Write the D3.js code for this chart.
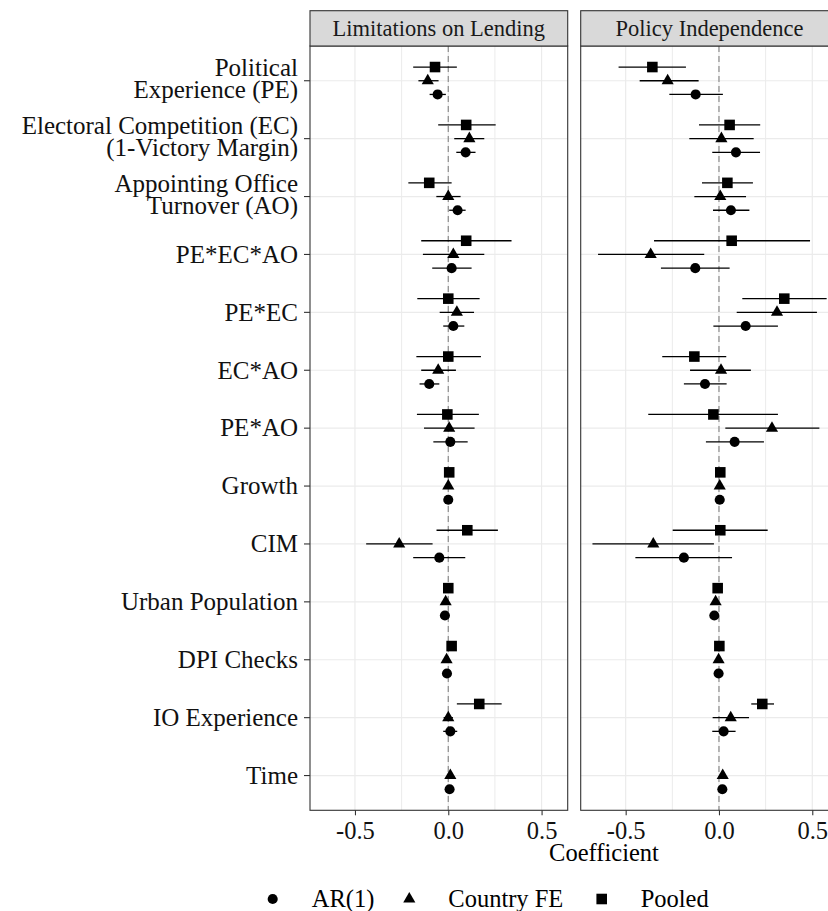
<!DOCTYPE html>
<html>
<head>
<meta charset="utf-8">
<script src="https://cdn.jsdelivr.net/npm/d3@7"></script>
<style>
  body { margin: 0; background: #fff; }
  svg { display: block; }
  svg text { font-family: "Liberation Serif", "Times New Roman", serif; }
</style>
</head>
<body>
<svg id="chart" width="828" height="911"></svg>
<script>
"use strict";

// category order, top to bottom
var terms = ["Political\nExperience (PE)", "Electoral Competition (EC)\n(1-Victory Margin)",
  "Appointing Office\nTurnover (AO)", "PE*EC*AO", "PE*EC", "EC*AO", "PE*AO", "Growth", "CIM",
  "Urban Population", "DPI Checks", "IO Experience", "Time"];

var panels = ["Limitations on Lending", "Policy Independence"];
var models = ["Pooled", "Country FE", "AR(1)"];
var legendOrder = ["AR(1)", "Country FE", "Pooled"];
var xTicks = [-0.5, 0, 0.5];
var xMinor = [-0.25, 0.25];

// [estimate, lower, upper] per term
var lendingPooled = [[-0.071, -0.188, 0.046], [0.096, -0.054, 0.254], [-0.102, -0.214, 0.018],
  [0.096, -0.145, 0.339], [0.0, -0.166, 0.168], [0.0, -0.171, 0.175], [-0.005, -0.168, 0.164],
  [0.005, -0.004, 0.014], [0.102, -0.063, 0.266], [0.0, -0.007, 0.007], [0.018, 0.01, 0.026],
  [0.166, 0.046, 0.286], null];
var lendingFE = [[-0.11, -0.16, -0.052], [0.113, 0.032, 0.193], [0.0, -0.064, 0.066],
  [0.027, -0.136, 0.193], [0.046, -0.046, 0.138], [-0.054, -0.145, 0.041], [0.005, -0.13, 0.141],
  [0.0, -0.005, 0.005], [-0.263, -0.44, -0.084], [-0.014, -0.02, -0.008], [-0.009, -0.015, -0.003],
  [0.0, -0.025, 0.025], [0.011, 0.008, 0.014]];
var lendingAR1 = [[-0.057, -0.1, -0.013], [0.093, 0.043, 0.146], [0.05, 0.005, 0.093],
  [0.018, -0.086, 0.125], [0.027, -0.027, 0.086], [-0.102, -0.154, -0.048], [0.011, -0.08, 0.104],
  [0.0, -0.003, 0.003], [-0.048, -0.188, 0.091], [-0.018, -0.022, -0.014], [-0.007, -0.01, -0.004],
  [0.011, -0.027, 0.048], [0.007, 0.005, 0.009]];

var policyPooled = [[-0.357, -0.538, -0.177], [0.057, -0.107, 0.221], [0.045, -0.091, 0.182],
  [0.068, -0.348, 0.488], [0.35, 0.125, 0.577], [-0.132, -0.304, 0.039], [-0.03, -0.379, 0.316],
  [0.007, 0.0, 0.014], [0.007, -0.248, 0.261], [-0.007, -0.014, 0.0], [0.002, -0.004, 0.008],
  [0.232, 0.173, 0.295], null];
var policyFE = [[-0.275, -0.425, -0.109], [0.013, -0.159, 0.186], [0.007, -0.132, 0.145],
  [-0.366, -0.648, -0.079], [0.311, 0.095, 0.525], [0.011, -0.155, 0.171], [0.284, 0.034, 0.538],
  [0.004, 0.0, 0.008], [-0.352, -0.678, -0.027], [-0.018, -0.024, -0.012], [-0.002, -0.008, 0.004],
  [0.063, -0.034, 0.161], [0.02, 0.016, 0.024]];
var policyAR1 = [[-0.125, -0.266, 0.021], [0.091, -0.036, 0.22], [0.064, -0.032, 0.163],
  [-0.127, -0.311, 0.057], [0.143, -0.03, 0.316], [-0.075, -0.188, 0.041], [0.084, -0.07, 0.241],
  [0.004, 0.0, 0.008], [-0.188, -0.448, 0.07], [-0.025, -0.03, -0.02], [-0.002, -0.006, 0.002],
  [0.025, -0.036, 0.089], [0.018, 0.015, 0.021]];

var panelData = [
  {"Pooled": lendingPooled, "Country FE": lendingFE, "AR(1)": lendingAR1},
  {"Pooled": policyPooled, "Country FE": policyFE, "AR(1)": policyAR1}
];

// flatten to rows
function buildRows(p) {
  var rows = [];
  models.forEach(function(m) {
    panelData[p][m].forEach(function(v, i) {
      if (v) rows.push({term: terms[i], model: m, est: v[0], lo: v[1], hi: v[2]});
    });
  });
  return rows;
}

var svg = d3.select("#chart");
var panelW = 257.7,
    panelLeft = [310, 580.7],
    stripTop = 10.7,
    plotTop = 46,
    plotBottom = 810.3;

var x = d3.scaleLinear().domain([-0.741, 0.64]).range([0, panelW]);
var y = d3.scalePoint().domain(terms).range([plotTop, plotBottom]).padding(0.6);
var dodge = d3.scalePoint().domain(models).range([-13.7, 13.7]);

var shape = {
  "AR(1)": d3.symbol().type(d3.symbolCircle).size(80),
  "Country FE": d3.symbol().type(d3.symbolTriangle).size(64),
  "Pooled": d3.symbol().type(d3.symbolSquare).size(112)
};

panels.forEach(function(name, p) {
  var g = svg.append("g").attr("transform", "translate(" + panelLeft[p] + ",0)");

  // minor then major grid
  g.selectAll(".minor").data(xMinor).enter().append("line")
      .attr("x1", function(d) { return x(d); })
      .attr("x2", function(d) { return x(d); })
      .attr("y1", plotTop).attr("y2", plotBottom)
      .attr("stroke", "#ebebeb").attr("stroke-width", 1);
  g.selectAll(".major").data(xTicks).enter().append("line")
      .attr("x1", function(d) { return x(d); })
      .attr("x2", function(d) { return x(d); })
      .attr("y1", plotTop).attr("y2", plotBottom)
      .attr("stroke", "#ebebeb").attr("stroke-width", 1.2);
  g.selectAll(".hgrid").data(terms).enter().append("line")
      .attr("x1", 0).attr("x2", panelW)
      .attr("y1", function(d) { return y(d); })
      .attr("y2", function(d) { return y(d); })
      .attr("stroke", "#ebebeb").attr("stroke-width", 1.2);

  // zero line
  g.append("line")
      .attr("x1", x(0)).attr("x2", x(0))
      .attr("y1", plotTop).attr("y2", plotBottom)
      .attr("stroke", "#8c8c8c").attr("stroke-width", 1.2)
      .attr("stroke-dasharray", "6,4");

  var rows = buildRows(p);

  g.selectAll(".ci").data(rows).enter().append("line")
      .attr("x1", function(d) { return x(d.lo); })
      .attr("x2", function(d) { return x(d.hi); })
      .attr("y1", function(d) { return y(d.term) + dodge(d.model); })
      .attr("y2", function(d) { return y(d.term) + dodge(d.model); })
      .attr("stroke", "#000").attr("stroke-width", 1.3);

  g.selectAll(".pt").data(rows).enter().append("path")
      .attr("d", function(d) { return shape[d.model](); })
      .attr("transform", function(d) {
        return "translate(" + x(d.est) + "," + (y(d.term) + dodge(d.model)) + ")";
      })
      .attr("fill", "#000");

  // panel border
  g.append("rect")
      .attr("x", 0).attr("y", plotTop)
      .attr("width", panelW).attr("height", plotBottom - plotTop)
      .attr("fill", "none").attr("stroke", "#333").attr("stroke-width", 1.1);

  // strip
  g.append("rect")
      .attr("x", 0).attr("y", stripTop)
      .attr("width", panelW).attr("height", plotTop - stripTop)
      .attr("fill", "#d9d9d9").attr("stroke", "#333").attr("stroke-width", 1.1);
  g.append("text")
      .attr("x", panelW / 2).attr("y", (stripTop + plotTop) / 2 + 7.5)
      .attr("text-anchor", "middle")
      .attr("font-size", "22.5px").attr("fill", "#1a1a1a")
      .text(name);

  // bottom axis
  var ax = g.append("g")
      .attr("transform", "translate(0," + plotBottom + ")")
      .call(d3.axisBottom(x).tickValues(xTicks).tickSize(5).tickPadding(6)
        .tickFormat(function(d) { return d3.format(".1f")(d).replace("\u2212", "-"); }));
  ax.attr("font-family", null);
  ax.select(".domain").remove();
  ax.selectAll("line").attr("stroke", "#333").attr("stroke-width", 1.1);
  ax.selectAll("text").attr("font-size", "24.5px").attr("fill", "#111")
      .style("font-family", "'Liberation Serif', serif");
});

// y axis on the left panel
var yAxis = svg.append("g").attr("transform", "translate(" + panelLeft[0] + ",0)");
yAxis.selectAll(".tick").data(terms).enter().append("line")
    .attr("x1", -6).attr("x2", 0)
    .attr("y1", function(d) { return y(d); })
    .attr("y2", function(d) { return y(d); })
    .attr("stroke", "#333").attr("stroke-width", 1.1);

yAxis.selectAll(".lab").data(terms).enter().append("text")
    .attr("text-anchor", "end")
    .attr("font-size", "25px").attr("fill", "#111")
    .each(function(d) {
      var lines = d.split("\n");
      var t = d3.select(this);
      lines.forEach(function(s, i) {
        var off = lines.length > 1 ? 6.5 : 8.3;
        t.append("tspan")
            .attr("x", -12)
            .attr("y", y(d) + off + (i - (lines.length - 1) / 2) * 22)
            .text(s);
      });
    });

// x title
svg.append("text")
    .attr("x", 604).attr("y", 860.7)
    .attr("text-anchor", "middle")
    .attr("font-size", "24.5px").attr("fill", "#000")
    .text("Coefficient");

// legend
var legX = {"AR(1)": 272.7, "Country FE": 409.3, "Pooled": 601.7};
var leg = svg.selectAll(".leg").data(legendOrder).enter().append("g");
leg.append("path")
    .attr("d", function(d) { return shape[d](); })
    .attr("transform", function(d) { return "translate(" + legX[d] + ",899)"; })
    .attr("fill", "#000");
leg.append("text")
    .attr("x", function(d) { return legX[d] + 39; })
    .attr("y", 907)
    .attr("font-size", "24.5px").attr("fill", "#000")
    .text(function(d) { return d; });
</script>
</body>
</html>
